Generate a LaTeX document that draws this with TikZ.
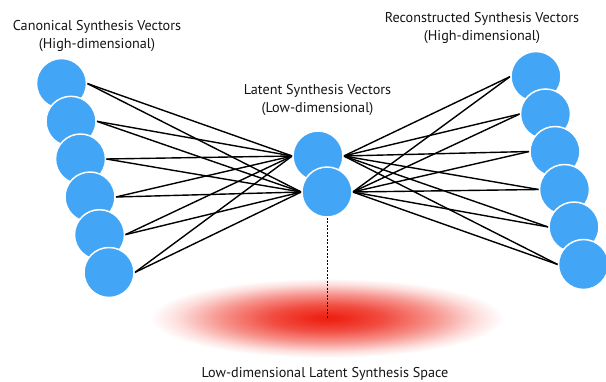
\documentclass[tikz,border=0pt]{standalone}
\usepackage{fontspec}
\setmainfont{PT Sans}
\usetikzlibrary{shadings}
\definecolor{nodeblue}{HTML}{42A5F5}
\definecolor{spacered}{RGB}{238,32,18}
\pgfdeclareradialshading{spaceglow}{\pgfpoint{0bp}{0bp}}{%
  color(0bp)=(spacered);
  color(2bp)=(spacered!97!white);
  color(8bp)=(spacered!80!white);
  color(15bp)=(spacered!48!white);
  color(21bp)=(spacered!15!white);
  color(24.8bp)=(white);
  color(50bp)=(white)}
\begin{document}
\begin{tikzpicture}[x=1pt,y=-1pt,
  vec/.style={circle,fill=nodeblue,draw=white,line width=1.5pt,minimum size=50pt,inner sep=0pt},
  link/.style={line width=1.4pt,black},
  lbl/.style={font=\fontsize{14.2}{18}\selectfont,align=center,text=black!92}]
\useasboundingbox (0,0) rectangle (606,381);
% latent space
\path[shading=spaceglow] (327,318) ellipse [x radius=178, y radius=40];
% left nodes
\foreach \i/\x/\y in {1/61.5/83.5,2/71/121.3,3/80.5/159,4/90/197,5/99.5/234.7,6/109/272.5}
  \node[vec] (L\i) at (\x,\y) {};
% right nodes
\foreach \i/\x/\y in {1/536/76.5,2/545.5/114,3/555/151.5,4/564.5/189.5,5/574/227,6/583.5/264.5}
  \node[vec] (R\i) at (\x,\y) {};
% central nodes
\node[vec] (C1) at (318,156) {};
\node[vec] (C2) at (327,192) {};
% connectors
\foreach \i in {1,...,6}{
  \draw[link] (L\i.east) -- (C1.west);
  \draw[link] (L\i.east) -- (C2.west);
  \draw[link] (R\i.west) -- (C1.east);
  \draw[link] (R\i.west) -- (C2.east);
}
% redraw nodes on top in order
\foreach \i/\x/\y in {1/61.5/83.5,2/71/121.3,3/80.5/159,4/90/197,5/99.5/234.7,6/109/272.5}
  \node[vec] at (\x,\y) {};
\foreach \i/\x/\y in {1/536/76.5,2/545.5/114,3/555/151.5,4/564.5/189.5,5/574/227,6/583.5/264.5}
  \node[vec] at (\x,\y) {};
\node[vec] at (318,156) {};
\node[vec] at (327,192) {};
% dotted link to space
\coordinate (S) at (327,318);
\draw[dash pattern=on 2pt off 1.5pt,line width=0.7pt] (C2.south) -- (S);
% labels
\node[lbl] (tl) at (97,36) {Canonical Synthesis Vectors\\(High-dimensional)};
\node[lbl] (tc) at (317.5,100.5) {Latent Synthesis Vectors\\(Low-dimensional)};
\node[lbl] (tr) at (482,28.5) {Reconstructed Synthesis Vectors\\(High-dimensional)};
\node[lbl] (tb) at (325,374) {Low-dimensional Latent Synthesis Space};
\end{tikzpicture}
\end{document}
